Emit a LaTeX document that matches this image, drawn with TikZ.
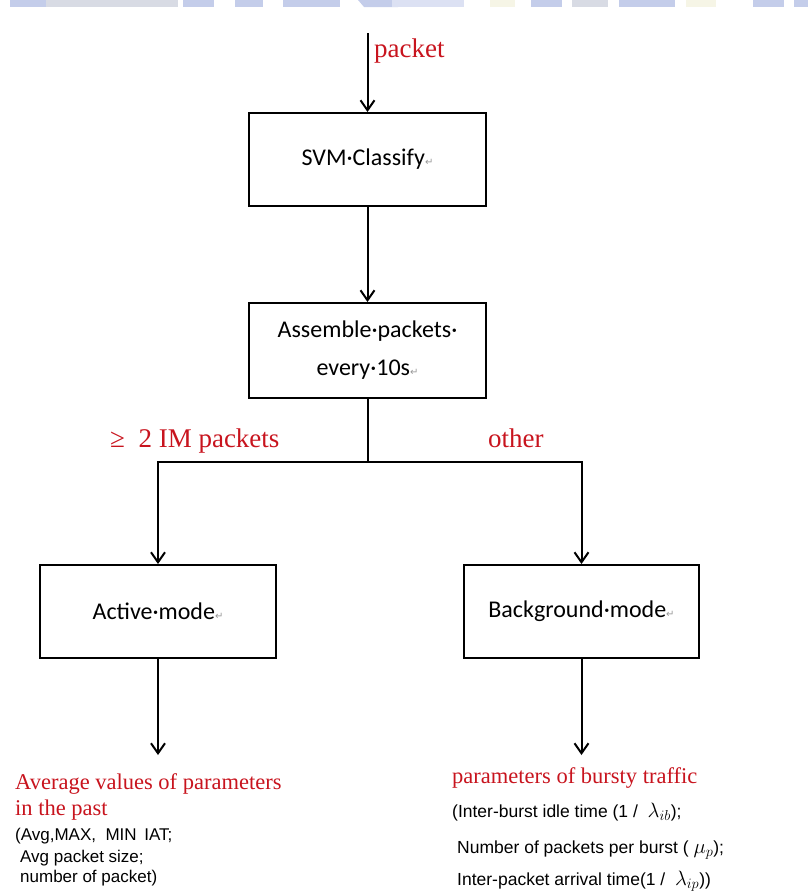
\documentclass[tikz,border=0pt]{standalone}
\usepackage{fontspec}
\setmainfont{Liberation Serif}
\setsansfont{Liberation Sans}
\newfontfamily\boxfont{Carlito}
\newfontfamily\markfont{DejaVu Sans}
\usetikzlibrary{arrows.meta}
\definecolor{capred}{RGB}{200,20,30}
\definecolor{wmblue}{RGB}{196,205,234}
\definecolor{wmgray}{RGB}{216,219,228}
\definecolor{wmyellow}{RGB}{246,245,230}
\newcommand{\pmark}{{\markfont\fontsize{10}{10}\selectfont\color{black!40}↵}}
\newcommand{\largemath}[1]{{\fontsize{21}{21}\selectfont$#1$}}
\begin{document}
\begin{tikzpicture}[x=1pt,y=-1pt,
  flowbox/.style={draw, line width=2pt, rectangle, inner sep=0pt, align=center,
    font=\boxfont\fontsize{24}{38}\selectfont},
  conn/.style={line width=2pt, line join=miter},
  arr/.style={conn, -{Straight Barb[length=10pt,width=14pt,line width=2pt]}},
  redlbl/.style={inner sep=0pt, text=capred, font=\rmfamily\fontsize{27}{30}\selectfont},
  redtitle/.style={inner sep=0pt, anchor=base west, text=capred, font=\rmfamily\fontsize{22.5}{26}\selectfont},
  blkline/.style={inner sep=0pt, anchor=base west, text=black, font=\sffamily\fontsize{17}{20}\selectfont},
  blkrline/.style={inner sep=0pt, anchor=base west, text=black, font=\sffamily\fontsize{17.5}{20}\selectfont}]
\useasboundingbox (0,0) rectangle (808,892);
% faint watermark band at the top edge
\fill[wmgray] (10,0) rectangle (178,7);
\fill[wmblue] (10,0) rectangle (46,7);
\fill[wmblue] (183,0) rectangle (214,7);
\fill[wmblue] (235,0) rectangle (263,7);
\fill[wmblue] (283,0) rectangle (340,7);
\fill[wmblue] (358,0) -- (392,0) -- (398,7) -- (364,7) -- cycle;
\fill[wmblue!60] (392,0) rectangle (464,7);
\fill[wmyellow] (490,0) rectangle (515,7);
\fill[wmblue] (531,0) rectangle (562,7);
\fill[wmgray] (572,0) rectangle (608,7);
\fill[wmblue] (619,0) rectangle (675,7);
\fill[wmyellow] (686,0) rectangle (716,7);
\fill[wmblue] (753,0) rectangle (784,7);
\fill[wmblue] (794,0) rectangle (808,7);

% boxes
\node[flowbox, minimum width=237pt, minimum height=93pt] (svm) at (367.5,159.5) {SVM·Classify\pmark};
\node[flowbox, minimum width=237pt, minimum height=95pt] (asm) at (367.5,350.5) {Assemble·packets·\\every·10s\pmark};
\node[flowbox, minimum width=236pt, minimum height=93pt] (act) at (158,611.5) {Active·mode\pmark};
\node[flowbox, minimum width=235pt, minimum height=93pt] (bg) at (581.5,611.5) {Background·mode\pmark};

% connectors
\coordinate (in) at (367.5,33);
\coordinate (split) at (367.5,462);
\coordinate (actend) at (158,755);
\coordinate (bgend) at (581.5,755);
\draw[arr] (in) -- (svm.north);
\draw[arr] (svm.south) -- (asm.north);
\draw[conn] (asm.south) -- (split);
\draw[arr] (split) -| (act.north);
\draw[arr] (split) -| (bg.north);
\draw[arr] (act.south) -- (actend);
\draw[arr] (bg.south) -- (bgend);

% red labels
\node[redlbl, anchor=base west] (pk) at (374,57) {packet};
\node[redlbl, anchor=base west] (im) at (110,447) {≥\ \ 2 IM packets};
\node[redlbl, anchor=base west] (oth) at (488,447) {other};

% left result text
\node[redtitle] (l1) at (15,789) {Average values of parameters};
\node[redtitle] (l2) at (15,815) {in the past};
\node[blkline] (l3) at (15,840) {(Avg,MAX,\ \ MIN\ \,IAT;};
\node[blkline] (l4) at (20,862) {Avg packet size;};
\node[blkline] (l5) at (20,882) {number of packet)};

% right result text
\node[redtitle] (r1) at (452,783) {parameters of bursty traffic};
\node[blkrline] (r2) at (452,817) {(Inter-burst idle time (1 /\ \ \largemath{\lambda_{ib}});};
\node[blkrline] (r3) at (457,853) {Number of packets per burst (\ \largemath{\mu_{p}});};
\node[blkrline] (r4) at (457,885) {Inter-packet arrival time(1 /\ \ \largemath{\lambda_{ip}}))};
\end{tikzpicture}
\end{document}
